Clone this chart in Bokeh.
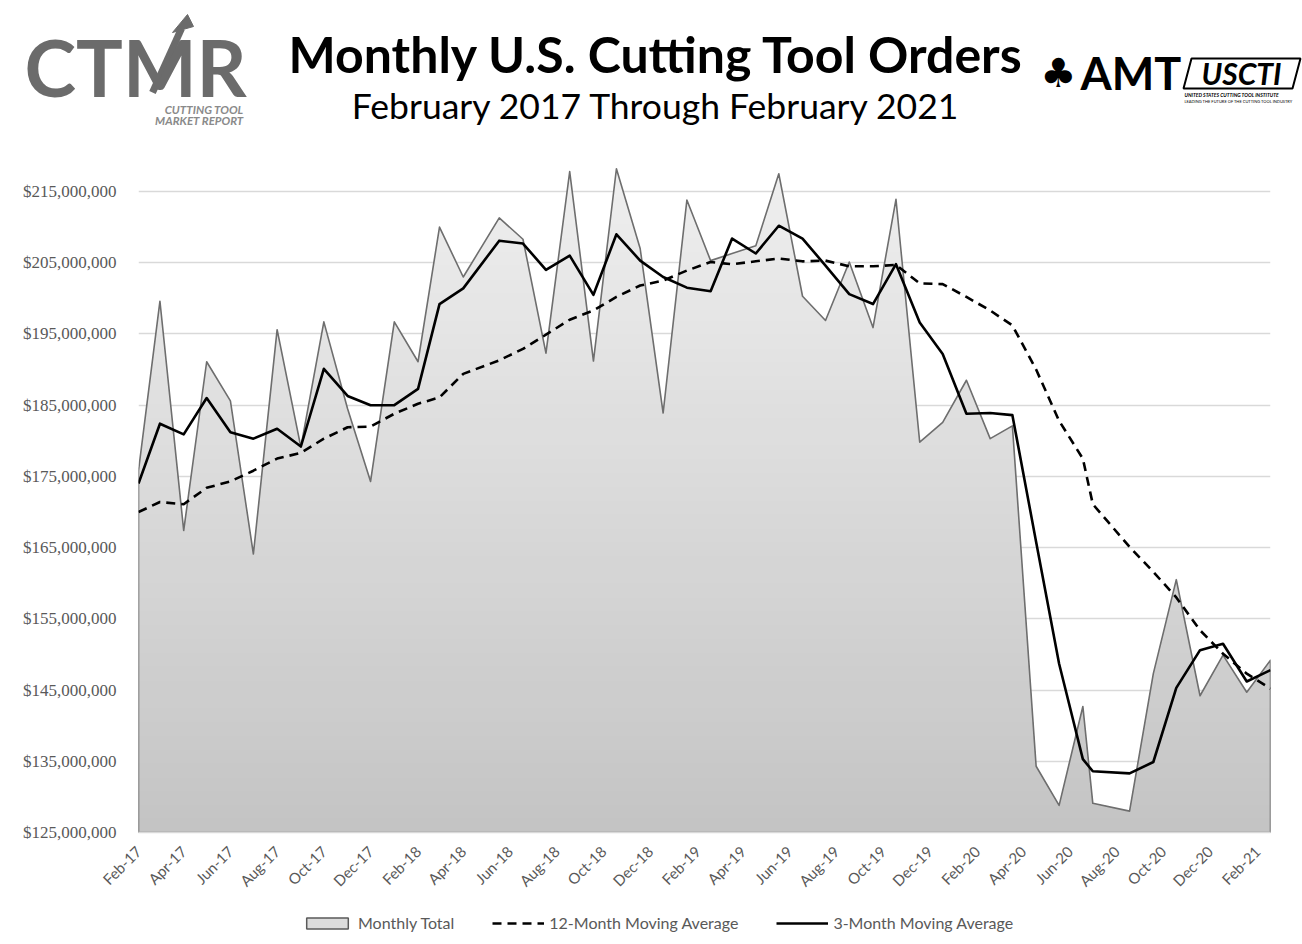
import math
import numpy as np
import pandas as pd
from bokeh.plotting import figure
from bokeh.models import (Range1d, FixedTicker, DatetimeTickFormatter, NumeralTickFormatter,
                          Label, Legend, LegendItem)
from bokeh.embed import file_html
from bokeh.resources import INLINE

# ---------------- data ----------------
point_dates = [
    "2017-02-01", "2017-03-01", "2017-04-01", "2017-05-01", "2017-06-01", "2017-07-01",
    "2017-08-01", "2017-09-01", "2017-10-01", "2017-11-01", "2017-12-01", "2018-01-01",
    "2018-02-01", "2018-03-01", "2018-04-01", "2018-05-18", "2018-06-18", "2018-07-18",
    "2018-08-18", "2018-09-18", "2018-10-18", "2018-11-18", "2018-12-18", "2019-01-18",
    "2019-02-18", "2019-03-18", "2019-04-18", "2019-05-18", "2019-06-18", "2019-07-18",
    "2019-08-18", "2019-09-18", "2019-10-18", "2019-11-18", "2019-12-18", "2020-01-18",
    "2020-02-18", "2020-03-18", "2020-04-18", "2020-05-18", "2020-06-18", "2020-07-01",
    "2020-08-18", "2020-09-18", "2020-10-18", "2020-11-18", "2020-12-18", "2021-01-18",
    "2021-02-18",
]
monthly_total_musd = [
    175.8, 199.6, 167.4, 191.1, 185.6, 164.1, 195.6, 179.1, 196.7, 184.5, 174.3, 196.7,
    191.1, 210.0, 203.0, 211.3, 208.3, 192.3, 217.8, 191.2, 218.2, 207.0, 183.9, 213.8,
    205.3, 206.3, 207.4, 217.5, 200.3, 196.9, 205.1, 195.9, 213.9, 179.8, 182.6, 188.5,
    180.3, 182.1, 134.3, 128.8, 142.7, 129.1, 128.0, 147.3, 160.5, 144.2, 149.9, 144.7,
    149.2,
]
ma12_musd = [
    170.0, 171.4, 171.1, 173.4, 174.3, 175.8, 177.5, 178.3, 180.3, 181.9, 182.0, 183.8,
    185.2, 186.1, 189.4, 191.3, 192.9, 194.9, 197.0, 198.3, 200.2, 201.8, 202.5, 203.9,
    205.1, 204.8, 205.2, 205.6, 205.2, 205.3, 204.5, 204.5, 204.7, 202.1, 202.0, 200.2,
    198.3, 196.2, 190.0, 182.8, 177.5, 171.1, 165.1, 161.6, 158.0, 153.4, 150.1, 147.3,
    145.2,
]
ma3_musd = [
    174.0, 182.4, 180.9, 186.0, 181.2, 180.3, 181.7, 179.2, 190.1, 186.3, 185.0, 185.0,
    187.3, 199.2, 201.4, 208.1, 207.7, 204.0, 206.0, 200.5, 209.0, 205.3, 203.0, 201.5,
    201.0, 208.4, 206.3, 210.2, 208.4, 204.6, 200.6, 199.2, 204.8, 196.6, 192.2, 183.8,
    183.9, 183.6, 165.8, 148.7, 135.3, 133.6, 133.3, 134.9, 145.3, 150.6, 151.5, 146.2,
    147.8,
]
x_tick_dates = [
    "2017-02-01", "2017-04-01", "2017-06-01", "2017-08-01", "2017-10-01", "2017-12-01",
    "2018-02-01", "2018-04-01", "2018-06-01", "2018-08-01", "2018-10-01", "2018-12-01",
    "2019-02-01", "2019-04-01", "2019-06-01", "2019-08-01", "2019-10-01", "2019-12-01",
    "2020-02-01", "2020-04-01", "2020-06-01", "2020-08-01", "2020-10-01", "2020-12-01",
    "2021-02-01",
]
y_tick_musd = [125, 135, 145, 155, 165, 175, 185, 195, 205, 215]
Y_AXIS_MIN_MUSD = 125
Y_AXIS_MAX_MUSD = 220.06

series_names = ["Monthly Total", "12-Month Moving Average", "3-Month Moving Average"]
title_text = "Monthly U.S. Cutting Tool Orders"
subtitle_text = "February 2017 Through February 2021"

# ---------------- prep ----------------
def to_ms(strs):
    return pd.to_datetime(strs).values.astype("datetime64[ms]").astype("int64").astype(float)

x_ms = to_ms(point_dates)
tick_ms = to_ms(x_tick_dates)
vals = np.array(monthly_total_musd) * 1e6
ma12 = np.array(ma12_musd) * 1e6
ma3 = np.array(ma3_musd) * 1e6
y_ticks = [v * 1e6 for v in y_tick_musd]
ymin = Y_AXIS_MIN_MUSD * 1e6
ymax = Y_AXIS_MAX_MUSD * 1e6

SANS = "Lato"
GRAY_TXT = "#595959"
AREA_LINE = "#6e6e6e"
W = 1302
H_HEAD, H_MAIN, H_FOOT = 150, 750, 42

def bare_fig(h, xr, yr):
    f = figure(width=W, height=h, output_backend="svg", toolbar_location=None, title=None,
               x_range=xr, y_range=yr, x_axis_location=None, y_axis_location=None,
               min_border=0)
    f.grid.visible = False
    f.outline_line_color = None
    return f

def lab(fig, text, x, y, size, color="black", style="normal", align="left", font=SANS, **kw):
    fig.add_layout(Label(x=x, y=y, text=text, text_font=font, text_font_size=size,
                         text_font_style=style, text_color=color, text_align=align,
                         text_baseline="alphabetic", **kw))

# ---------------- header (pixel space, y upward) ----------------
hdr = bare_fig(H_HEAD, Range1d(0, W), Range1d(0, H_HEAD))
lab(hdr, title_text, 656, 97, "50px", style="bold", align="center")
lab(hdr, subtitle_text, 656, 45, "35.5px", align="center")
# CTMR logo (approximation)
lab(hdr, "CTMR", 24, 84, "78px", color="#6b6b6b", style="bold")
hdr.line(x=[152, 181], y=[58, 122], line_color="#6b6b6b", line_width=7)
hdr.patch(x=[172, 193, 187], y=[118, 124, 136], fill_color="#6b6b6b", line_color="#6b6b6b")
lab(hdr, "CUTTING TOOL", 243, 41, "11.5px", color="#8a8a8a", style="bold italic", align="right")
lab(hdr, "MARKET REPORT", 243, 30, "11.5px", color="#8a8a8a", style="bold italic", align="right")
# AMT logo (approximation)
lab(hdr, "\u2663", 1040, 78, "40px", font="DejaVu Sans")
lab(hdr, "AMT", 1080, 78, "45px", style="bold")
# USCTI logo (approximation)
hdr.patch(x=[1183, 1292, 1300, 1191], y=[62, 62, 92, 92], fill_color="white",
          line_color="black", line_width=2)
lab(hdr, "USCTI", 1241, 78, "30px", style="bold italic", align="center")
lab(hdr, "UNITED STATES CUTTING TOOL INSTITUTE", 1184, 56, "5px", style="bold italic")
lab(hdr, "LEADING THE FUTURE OF THE CUTTING TOOL INDUSTRY", 1184, 49, "4px")

# ---------------- main chart ----------------
p = figure(width=W, height=H_MAIN, x_axis_type="datetime", output_backend="svg",
           toolbar_location=None, title=None,
           x_range=Range1d(x_ms[0], x_ms[-1]), y_range=Range1d(ymin, ymax),
           min_border_left=138, min_border_right=32, min_border_top=5, min_border_bottom=68)
p.outline_line_color = None
p.background_fill_color = "white"
p.border_fill_color = "white"

# gradient area painted as nested bands (exact breakpoints at band edges)
NB = 48
top = vals.max()
levels = np.linspace(ymin, top, NB + 1)[1:]
pieces = [x_ms]
for k in range(len(vals) - 1):
    y0, y1 = vals[k], vals[k + 1]
    lo, hi = min(y0, y1), max(y0, y1)
    m = (levels > lo) & (levels < hi)
    if m.any():
        t = (levels[m] - y0) / (y1 - y0)
        pieces.append(x_ms[k] + t * (x_ms[k + 1] - x_ms[k]))
xs_all = np.unique(np.concatenate(pieces))
fs = np.interp(xs_all, x_ms, vals)
C_TOP, C_BOT = 239, 196
for j in reversed(range(NB)):
    frac = (j + 0.5) / NB
    g = int(round(C_BOT + (C_TOP - C_BOT) * frac))
    col = "#%02x%02x%02x" % (g, g, g)
    p.varea(x=xs_all, y1=ymin, y2=np.minimum(fs, levels[j]), fill_color=col)

area_x = list(x_ms) + [x_ms[-1], x_ms[0]]
area_y = list(vals) + [ymin, ymin]
p.patch(x=area_x, y=area_y, fill_alpha=0, line_color=AREA_LINE, line_width=1.6, line_join="round")
p.line(x_ms, ma12, line_color="black", line_width=2.6, line_dash="9 6", line_join="round")
p.line(x_ms, ma3, line_color="black", line_width=2.6, line_join="round")

p.yaxis.ticker = FixedTicker(ticks=y_ticks)
p.yaxis.formatter = NumeralTickFormatter(format="$0,0")
p.yaxis.axis_line_color = None
p.yaxis.major_tick_line_color = None
p.yaxis.minor_tick_line_color = None
p.yaxis.major_label_text_color = GRAY_TXT
p.yaxis.major_label_text_font = "Liberation Serif"
p.yaxis.major_label_text_font_size = "17px"
p.yaxis.major_label_standoff = 16

p.ygrid.ticker = FixedTicker(ticks=y_ticks)
p.ygrid.grid_line_color = "#d9d9d9"
p.ygrid.grid_line_width = 1.5
p.xgrid.visible = False

fmt = "%b-%y"
p.xaxis.ticker = FixedTicker(ticks=list(tick_ms))
p.xaxis.formatter = DatetimeTickFormatter(milliseconds=fmt, seconds=fmt, minsec=fmt, minutes=fmt,
                                          hourmin=fmt, hours=fmt, days=fmt, months=fmt, years=fmt)
p.xaxis.axis_line_color = "#d9d9d9"
p.xaxis.axis_line_width = 1.5
p.xaxis.major_tick_line_color = None
p.xaxis.minor_tick_line_color = None
p.xaxis.major_label_orientation = math.pi / 4
p.xaxis.major_label_text_color = GRAY_TXT
p.xaxis.major_label_text_font = SANS
p.xaxis.major_label_text_font_size = "15px"
p.xaxis.major_label_standoff = 10

# ---------------- footer legend ----------------
# legend proxies carry the real data but sit outside the footer's (0..1) view
ftr = bare_fig(H_FOOT, Range1d(0, 1), Range1d(0, 1))
l_area = ftr.patch(x=area_x, y=area_y, fill_color="#dcdcdc", line_color="#5a5a5a", line_width=1.5)
l_12 = ftr.line(x_ms, ma12, line_color="black", line_width=2.6, line_dash="9 6")
l_3 = ftr.line(x_ms, ma3, line_color="black", line_width=2.6)
legend = Legend(items=[LegendItem(label=series_names[0], renderers=[l_area]),
                       LegendItem(label=series_names[1], renderers=[l_12]),
                       LegendItem(label=series_names[2], renderers=[l_3])],
                orientation="horizontal", location=(301, 10),
                label_text_font=SANS, label_text_font_size="16px", label_text_color=GRAY_TXT,
                glyph_width=52, glyph_height=14, spacing=38, label_standoff=5,
                padding=0, margin=0, border_line_color=None, background_fill_alpha=0)
ftr.add_layout(legend)

open("out.html", "w").write(file_html([hdr, p, ftr], INLINE))
